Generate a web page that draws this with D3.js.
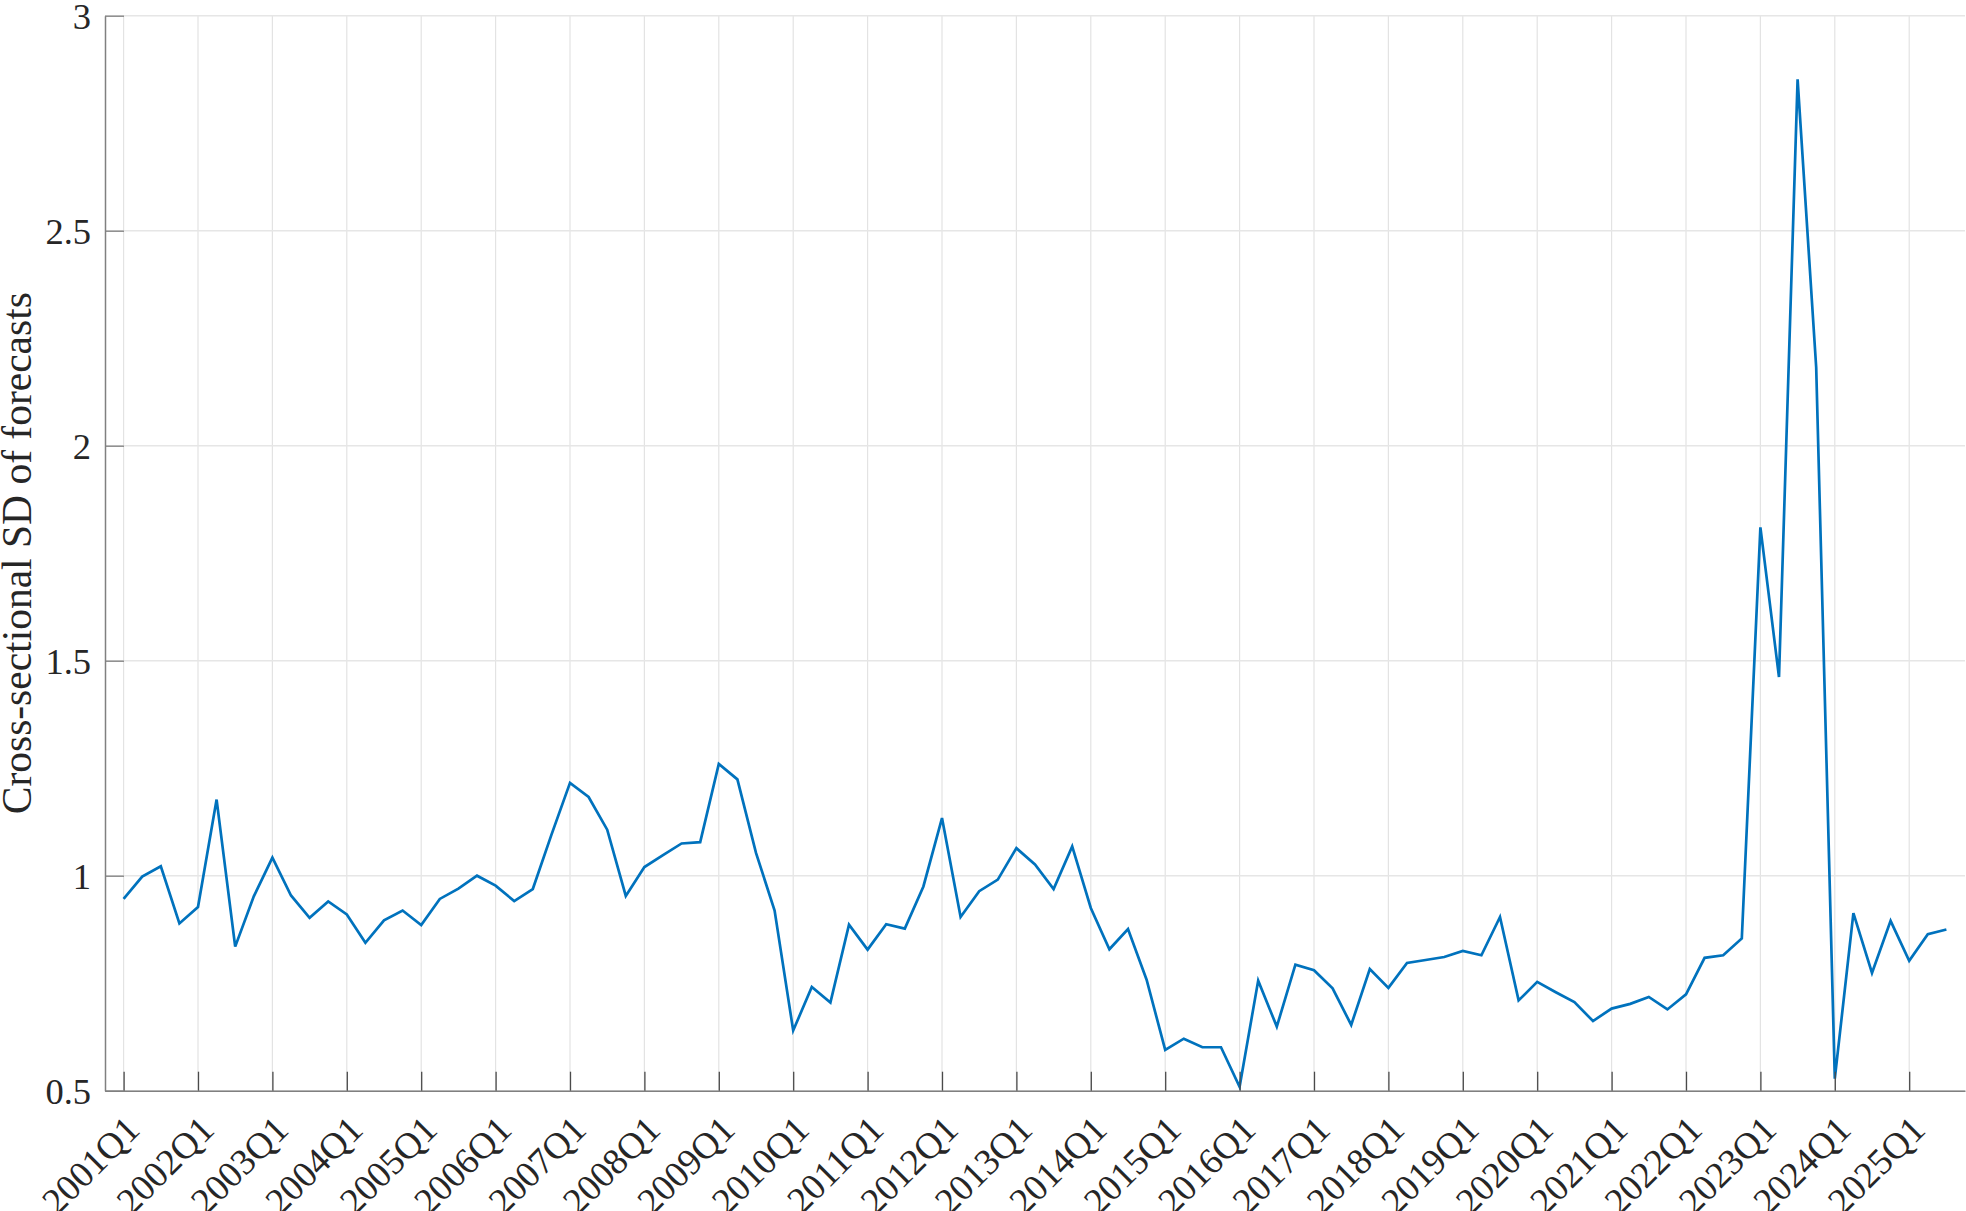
<!DOCTYPE html>
<html>
<head>
<meta charset="utf-8">
<script src="https://cdn.jsdelivr.net/npm/d3@7"></script>
<style>
  html, body { margin: 0; padding: 0; background: #fff; }
  svg { display: block; }
  text { font-family: "Liberation Serif", "Times New Roman", Times, serif; fill: #262626; }
</style>
</head>
<body>
<svg id="chart" width="1966" height="1211"></svg>
<script>
// ---- Data ----
const startYear = 2001;
const endYear = 2025;
const quarters = [];
for (let yr = startYear; yr <= endYear; yr++) for (let q = 1; q <= 4; q++) quarters.push(yr + "Q" + q);
const periods = quarters.slice(0, 99); // 2001Q1 .. 2025Q3

const sdValues = [
  0.946, 0.998, 1.022, 0.889, 0.927, 1.177, 0.835, 0.952,
  1.042, 0.954, 0.902, 0.940, 0.910, 0.844, 0.896, 0.919,
  0.885, 0.946, 0.970, 1.000, 0.977, 0.941, 0.969, 1.095,
  1.216, 1.183, 1.107, 0.953, 1.020, 1.048, 1.075, 1.078,
  1.260, 1.224, 1.053, 0.919, 0.640, 0.741, 0.705, 0.886,
  0.828, 0.887, 0.877, 0.975, 1.134, 0.904, 0.964, 0.991,
  1.064, 1.026, 0.969, 1.068, 0.925, 0.829, 0.876, 0.758,
  0.595, 0.621, 0.601, 0.601, 0.509, 0.756, 0.649, 0.793,
  0.780, 0.738, 0.653, 0.783, 0.739, 0.797, 0.804, 0.811,
  0.825, 0.815, 0.904, 0.710, 0.753, 0.729, 0.706, 0.662,
  0.691, 0.702, 0.718, 0.689, 0.724, 0.809, 0.815, 0.854,
  1.810, 1.462, 2.852, 2.182, 0.528, 0.913, 0.774, 0.895,
  0.802, 0.864, 0.875
];

const xTickLabels = ["2001Q1","2002Q1","2003Q1","2004Q1","2005Q1","2006Q1","2007Q1","2008Q1",
  "2009Q1","2010Q1","2011Q1","2012Q1","2013Q1","2014Q1","2015Q1","2016Q1","2017Q1","2018Q1",
  "2019Q1","2020Q1","2021Q1","2022Q1","2023Q1","2024Q1","2025Q1"];
const yTicks = [0.5, 1, 1.5, 2, 2.5, 3];
const yLabel = "Cross-sectional SD of forecasts";

// ---- Layout ----
const pL = 105, pR = 1965, pT = 15.7, pB = 1090.7;
const svg = d3.select("#chart");

const x = d3.scalePoint().domain(periods).range([pL, pR]).padding(1);
const y = d3.scaleLinear().domain([0.5, 3]).range([pB, pT]);

// ---- Grid ----
const grid = svg.append("g");
grid.selectAll("line.v").data(xTickLabels).enter().append("line")
  .attr("x1", d => x(d)).attr("x2", d => x(d))
  .attr("y1", pT).attr("y2", pB)
  .attr("stroke", "#e3e3e3").attr("stroke-width", 1.2);
grid.selectAll("line.h").data(yTicks).enter().append("line")
  .attr("x1", pL).attr("x2", pR)
  .attr("y1", d => y(d)).attr("y2", d => y(d))
  .attr("stroke", "#e6e6e6").attr("stroke-width", 1.4);

// ---- Line ----
const line = d3.line()
  .x((d, i) => x(periods[i]))
  .y(d => y(d));
svg.append("path").datum(sdValues)
  .attr("d", line)
  .attr("fill", "none")
  .attr("stroke", "#0072BD")
  .attr("stroke-width", 2.7)
  .attr("stroke-linejoin", "miter");

// ---- Axes ----
const xAxis = d3.axisBottom(x)
  .tickValues(xTickLabels)
  .tickSizeInner(-19).tickSizeOuter(0)
  .tickFormat("");
const gx = svg.append("g").attr("transform", `translate(0,${pB})`).call(xAxis);
gx.select(".domain").attr("stroke", "#808080").attr("stroke-width", 1.5);
gx.selectAll(".tick line").attr("stroke", "#4a4a4a").attr("stroke-width", 1.3);

// rotated x labels
svg.append("g").selectAll("text").data(xTickLabels).enter().append("text")
  .attr("transform", d => `translate(${x(d) + 18},${pB + 41}) rotate(-45)`)
  .attr("text-anchor", "end")
  .attr("font-size", 37)
  .text(d => d);

const yAxis = d3.axisLeft(y)
  .tickValues(yTicks)
  .tickSizeInner(-19).tickSizeOuter(0)
  .tickPadding(14)
  .tickFormat(d3.format("~g"));
const gy = svg.append("g").attr("transform", `translate(${pL},0)`).call(yAxis);
gy.select(".domain").attr("stroke", "#808080").attr("stroke-width", 1.5);
gy.selectAll(".tick line").attr("stroke", "#808080").attr("stroke-width", 1.3);
gy.selectAll(".tick text")
  .attr("font-size", 36.5)
  .attr("font-family", "'Liberation Serif', 'Times New Roman', serif")
  .attr("fill", "#262626")
  .attr("dy", "0.34em");

// y label
svg.append("text")
  .attr("transform", `translate(30.5,${(pT + pB) / 2}) rotate(-90)`)
  .attr("text-anchor", "middle")
  .attr("font-size", 41.5)
  .text(yLabel);
</script>
</body>
</html>
